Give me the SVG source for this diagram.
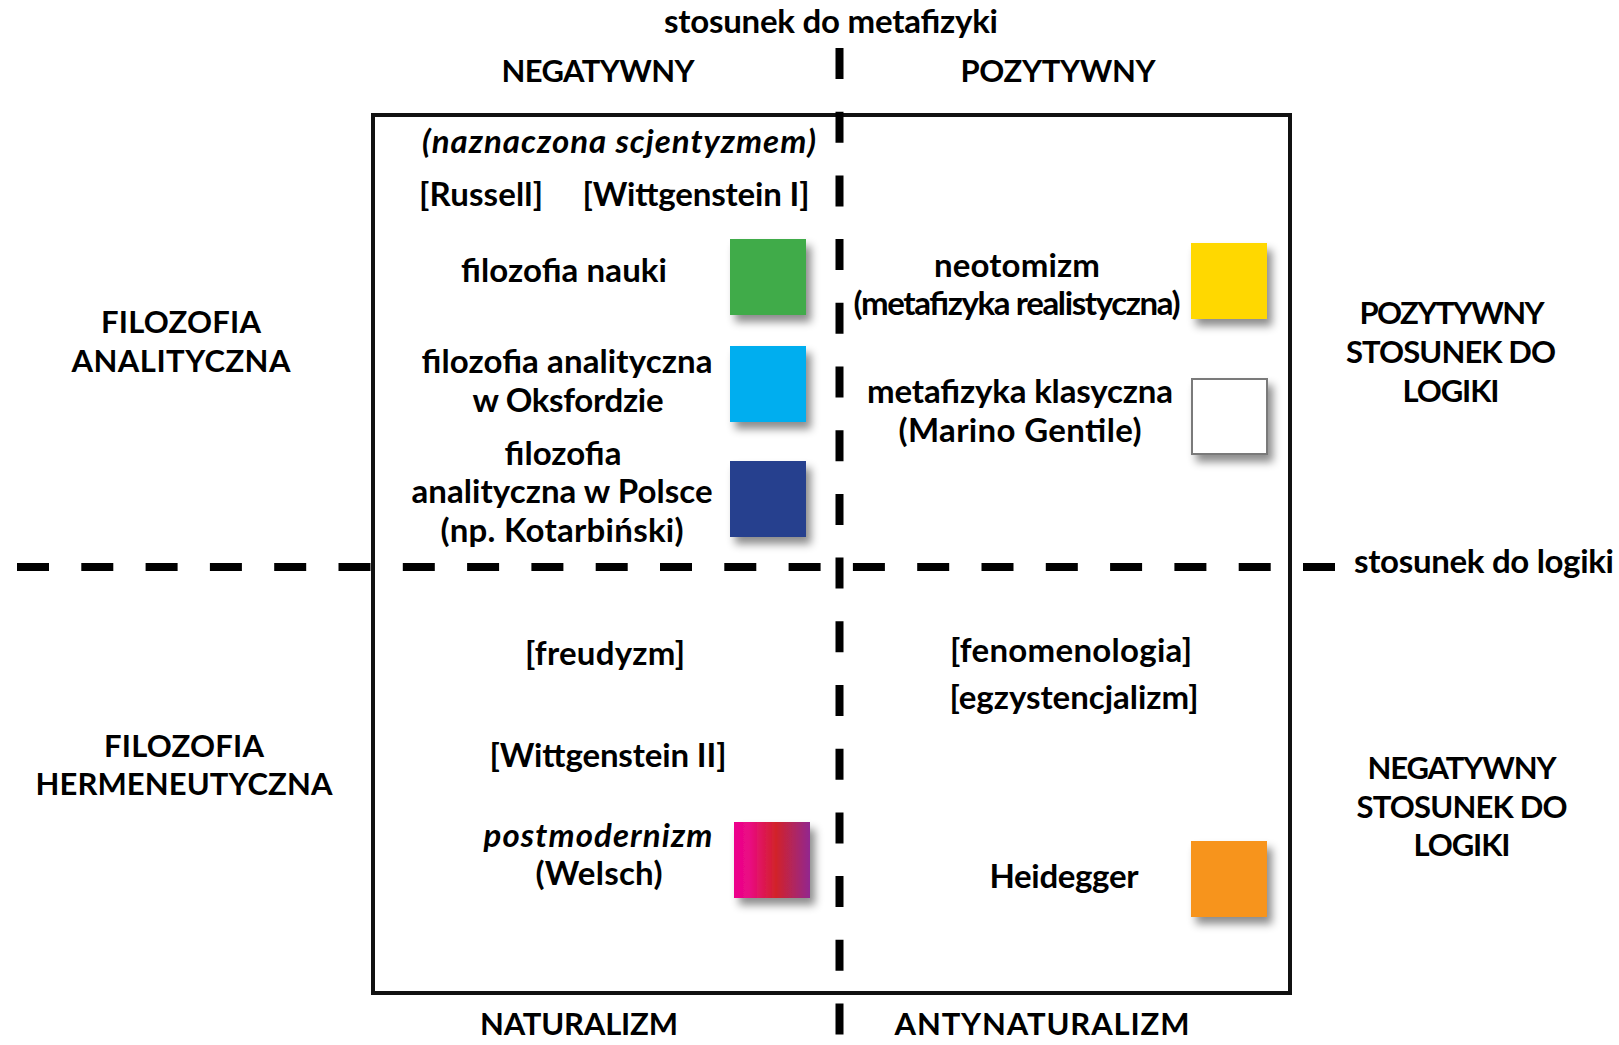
<svg xmlns="http://www.w3.org/2000/svg" width="1619" height="1045" viewBox="0 0 1619 1045">
<style>
text{font-family:Lato,"Open Sans","Liberation Sans",sans-serif;font-weight:700;fill:#000;text-anchor:middle}
.b{font-size:33px}
.i{font-style:italic}
.c{font-size:31px}
.sq{filter:url(#sh)}
.axis{stroke:#000;stroke-width:8;fill:none}
</style>
<defs>
<filter id="sh" x="-30%" y="-30%" width="170%" height="170%">
<feDropShadow dx="5" dy="7" stdDeviation="4" flood-color="#000" flood-opacity="0.45"/>
</filter>
<linearGradient id="pm" x1="0" y1="0" x2="1" y2="0">
<stop offset="0" stop-color="#ec008c"/>
<stop offset="0.2" stop-color="#ea0a83"/>
<stop offset="0.55" stop-color="#d2232a"/>
<stop offset="1" stop-color="#92278f"/>
</linearGradient>
</defs>
<rect width="1619" height="1045" fill="#fff"/>

<g id="frame">
<rect x="373" y="115" width="917" height="878" fill="none" stroke="#111" stroke-width="4"/>
</g>

<g id="connectors">
<line class="axis" x1="839.5" y1="48" x2="839.5" y2="1045" stroke-dasharray="31 32.7"/>
<line class="axis" x1="17" y1="567" x2="1336" y2="567" stroke-dasharray="32 32.3"/>
</g>

<g id="axis-labels">
<text class="b" x="831" y="33" textLength="334">stosunek do metafizyki</text>
<text class="c" x="598" y="82" textLength="193">NEGATYWNY</text>
<text class="c" x="1058" y="82" textLength="195">POZYTYWNY</text>
<text class="b" x="1484" y="573" textLength="260">stosunek do logiki</text>
<text class="c" x="579" y="1035" textLength="198">NATURALIZM</text>
<text class="c" x="1042" y="1035" textLength="295">ANTYNATURALIZM</text>
</g>

<g id="label-analityczna">
<text class="c" x="181" y="333" textLength="160">FILOZOFIA</text>
<text class="c" x="181" y="372" textLength="219">ANALITYCZNA</text>
</g>
<g id="label-hermeneutyczna">
<text class="c" x="184" y="757" textLength="160">FILOZOFIA</text>
<text class="c" x="184" y="795" textLength="297">HERMENEUTYCZNA</text>
</g>
<g id="label-pozytywny-logika">
<text class="c" x="1452" y="324" textLength="185">POZYTYWNY</text>
<text class="c" x="1451" y="363" textLength="210">STOSUNEK DO</text>
<text class="c" x="1451" y="402" textLength="97">LOGIKI</text>
</g>
<g id="label-negatywny-logika">
<text class="c" x="1462" y="779" textLength="189">NEGATYWNY</text>
<text class="c" x="1462" y="818" textLength="211">STOSUNEK DO</text>
<text class="c" x="1462" y="856" textLength="97">LOGIKI</text>
</g>

<g id="scjentyzm">
<text class="b i" x="619" y="153" textLength="394">(naznaczona scjentyzmem)</text>
</g>
<g id="russell">
<text class="b" x="481" y="206" textLength="124">[Russell]</text>
</g>
<g id="wittgenstein-1">
<text class="b" x="696" y="206" textLength="227">[Wittgenstein I]</text>
</g>
<g id="filozofia-nauki">
<text class="b" x="564" y="282" textLength="206">filozofia nauki</text>
<rect class="sq" x="730" y="239" width="76" height="76" fill="#3fab4a"/>
</g>
<g id="filozofia-oksford">
<text class="b" x="567" y="373" textLength="291">filozofia analityczna</text>
<text class="b" x="568" y="412" textLength="191">w Oksfordzie</text>
<rect class="sq" x="730" y="346" width="76" height="76" fill="#00aeef"/>
</g>
<g id="filozofia-polska">
<text class="b" x="563" y="465" textLength="117">filozofia</text>
<text class="b" x="562" y="503" textLength="301">analityczna w Polsce</text>
<text class="b" x="562" y="542" textLength="243">(np. Kotarbiński)</text>
<rect class="sq" x="730" y="461" width="76" height="76" fill="#253f8e"/>
</g>
<g id="neotomizm">
<text class="b" x="1017" y="277" textLength="166">neotomizm</text>
<text class="b" x="1017" y="315" textLength="327">(metafizyka realistyczna)</text>
<rect class="sq" x="1191" y="243" width="76" height="76" fill="#ffd800"/>
</g>
<g id="metafizyka-klasyczna">
<text class="b" x="1020" y="403" textLength="306">metafizyka klasyczna</text>
<text class="b" x="1020" y="442" textLength="243">(Marino Gentile)</text>
<rect class="sq" x="1192" y="379" width="75" height="75" fill="#fff" stroke="#7a7a7a" stroke-width="2"/>
</g>
<g id="freudyzm">
<text class="b" x="605" y="665" textLength="160">[freudyzm]</text>
</g>
<g id="wittgenstein-2">
<text class="b" x="608" y="767" textLength="237">[Wittgenstein II]</text>
</g>
<g id="postmodernizm">
<text class="b i" x="598" y="847" textLength="229">postmodernizm</text>
<text class="b" x="599" y="885" textLength="127">(Welsch)</text>
<rect class="sq" x="734" y="822" width="76" height="76" fill="url(#pm)"/>
</g>
<g id="fenomenologia">
<text class="b" x="1071" y="662" textLength="242">[fenomenologia]</text>
</g>
<g id="egzystencjalizm">
<text class="b" x="1074" y="709" textLength="249">[egzystencjalizm]</text>
</g>
<g id="heidegger">
<text class="b" x="1064" y="888" textLength="149">Heidegger</text>
<rect class="sq" x="1191" y="841" width="76" height="76" fill="#f7941e"/>
</g>
</svg>
